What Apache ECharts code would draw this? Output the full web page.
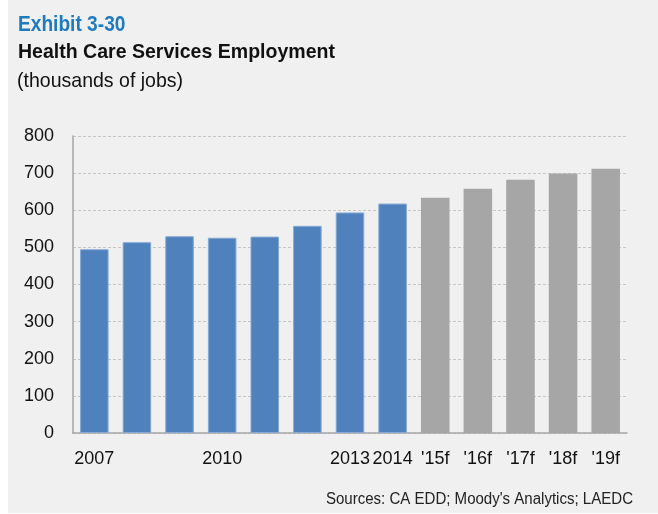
<!DOCTYPE html>
<html>
<head>
<meta charset="utf-8">
<script src="https://cdn.jsdelivr.net/npm/echarts@6/dist/echarts.min.js"></script>
<style>
  html, body { margin: 0; padding: 0; background: #ffffff; }
  #chart { width: 658px; height: 514px; }
</style>
</head>
<body>
<div id="chart"></div>
<script>
// Health care services employment, thousands of jobs
const categories = ['2007', '2008', '2009', '2010', '2011', '2012', '2013', '2014', "'15f", "'16f", "'17f", "'18f", "'19f"];
const tickLabels = ['2007', '', '', '2010', '', '', '2013', '2014', "'15f", "'16f", "'17f", "'18f", "'19f"];
const actualValues = [495, 514, 530, 526, 529, 558, 594, 618];
const forecastValues = [634, 658, 682, 699, 712];

const FONT = "'Liberation Sans', Arial, sans-serif";
const BLUE = '#4f81bd';
const GRAY = '#a6a6a6';

const barData = actualValues.map(v => ({
  value: v,
  itemStyle: { color: BLUE, borderColor: '#86a9d6', borderWidth: 1 }
})).concat(forecastValues.map(v => ({
  value: v,
  itemStyle: { color: GRAY }
})));

// Narrowed heading text, anchored at its left (or right) edge
function headText(x, y, text, font, fill, scaleX, align) {
  return {
    type: 'text', x: x, y: y, scaleX: scaleX, originX: 0, originY: 0,
    style: { x: 0, y: 0, text: text, font: font, fill: fill, align: align || 'left', verticalAlign: 'top' }
  };
}

const chart = echarts.init(document.getElementById('chart'), null, { renderer: 'canvas' });
chart.setOption({
  animation: false,
  backgroundColor: '#ffffff',
  graphic: [
    { type: 'rect', z: -10, shape: { x: 8, y: 0, width: 650, height: 513 }, style: { fill: '#f0f0f0' } },
    headText(18, 14, 'Exhibit 3-30', 'bold 22px ' + FONT, '#1f7bc0', 0.87),
    headText(18, 42, 'Health Care Services Employment', 'bold 21px ' + FONT, '#111111', 0.93),
    headText(17, 71, '(thousands of jobs)', '21px ' + FONT, '#111111', 0.93),
    headText(633, 492, "Sources: CA EDD; Moody's Analytics; LAEDC", '16px ' + FONT, '#222222', 0.94, 'right')
  ],
  grid: { left: 73, right: 31, top: 136, bottom: 81, containLabel: false },
  xAxis: {
    type: 'category',
    data: categories,
    axisLine: { show: true, lineStyle: { color: '#a6a6a6', width: 1.5 } },
    axisTick: { show: false },
    axisLabel: {
      interval: 0,
      margin: 17,
      color: '#111111',
      fontFamily: FONT,
      fontSize: 18,
      formatter: (v, i) => tickLabels[i]
    }
  },
  yAxis: {
    type: 'value',
    min: 0,
    max: 800,
    interval: 100,
    axisLine: { show: true, lineStyle: { color: '#a6a6a6', width: 1.5 } },
    axisTick: { show: false },
    axisLabel: { margin: 19, color: '#111111', fontFamily: FONT, fontSize: 18 },
    splitLine: { show: true, lineStyle: { color: '#c6c6c6', type: [3, 2], width: 1 } }
  },
  series: [{
    type: 'bar',
    data: barData,
    barCategoryGap: '33%'
  }]
});
</script>
</body>
</html>
